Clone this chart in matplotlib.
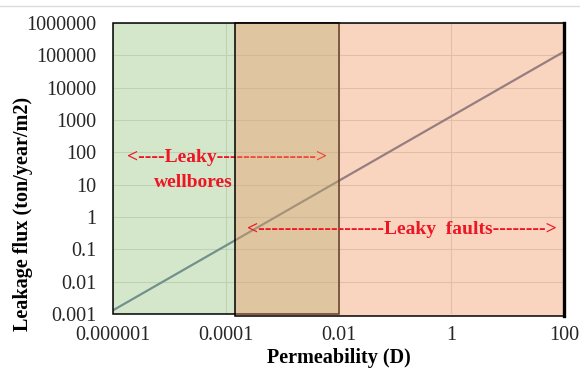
import matplotlib
matplotlib.use("Agg")
import matplotlib.pyplot as plt
import matplotlib.transforms as mtransforms
from matplotlib.patches import Rectangle
from matplotlib.lines import Line2D

# ─── Data ───────────────────────────────────────────────────────────────────
permeability = [1e-6, 1e-5, 1e-4, 1e-3, 1e-2, 1e-1, 1, 10, 100]
leakage_flux = [0.0013, 0.013, 0.13, 1.3, 13, 130, 1300, 13000, 130000]

x_ticks  = [1e-6, 1e-4, 1e-2, 1, 100]
x_labels = ["0.000001", "0.0001", "0.01", "1", "100"]
y_ticks  = [1e-3, 1e-2, 1e-1, 1, 10, 100, 1e3, 1e4, 1e5, 1e6]
y_labels = ["0.001", "0.01", "0.1", "1", "10", "100", "1000", "10000",
            "100000", "1000000"]

wellbore_range = (1e-6, 1e-2)     # permeability range of leaky wellbores
fault_range    = (1.45e-4, 100)   # permeability range of leaky faults

RED = "#ee1525"

plt.rcParams["font.family"] = ["Liberation Serif", "DejaVu Serif"]

fig = plt.figure(figsize=(5.8, 3.69), dpi=100)
ax = fig.add_axes([113 / 580, 1 - 314 / 369, 451 / 580, 291 / 369])

ax.set_xscale("log")
ax.set_yscale("log")
ax.set_xlim(x_ticks[0], x_ticks[-1])
ax.set_ylim(y_ticks[0], y_ticks[-1])
ax.set_xticks(x_ticks)
ax.set_xticklabels(x_labels)
ax.set_yticks(y_ticks)
ax.set_yticklabels(y_labels)
ax.minorticks_off()
ax.tick_params(length=0, labelsize=14.5, labelcolor="#262626")
ax.tick_params(axis="x", pad=9)
ax.tick_params(axis="y", pad=12)
for s in ax.spines.values():
    s.set_visible(False)

ax.set_axisbelow(True)
ax.grid(True, color="#d9d9d9", lw=0.8)

ax.plot(permeability, leakage_flux, color="#5a6e96", lw=1.6, zorder=1)

# zone boxes (semi-transparent, drawn over the curve)
trans = mtransforms.blended_transform_factory(ax.transData, ax.transAxes)
ax.add_patch(Rectangle((wellbore_range[0], 0), wellbore_range[1] - wellbore_range[0], 1,
                       transform=trans, facecolor=(152/255, 197/255, 127/255, 0.4),
                       edgecolor="black", lw=1.1, zorder=2, clip_on=False))

ax.text(0.031, 0.5395, "<----Leaky--------------->", transform=ax.transAxes,
        ha="left", va="center", color=RED, fontsize=14, fontweight="bold", zorder=3)
ax.text(0.177, 0.4536, "wellbores", transform=ax.transAxes,
        ha="center", va="center", color=RED, fontsize=14, fontweight="bold", zorder=3)

ax.add_patch(Rectangle((fault_range[0], -0.007), fault_range[1] - fault_range[0], 1.007,
                       transform=trans, facecolor=(242/255, 150/255, 97/255, 0.4),
                       edgecolor="black", lw=1.1, zorder=4, clip_on=False))
ax.plot([fault_range[1], fault_range[1]], [-0.007, 1.0], transform=trans,
        color="black", lw=2.4, zorder=5, clip_on=False)

ax.text(0.297, 0.2887, "<-------------------Leaky  faults-------->", transform=ax.transAxes,
        ha="left", va="center", color=RED, fontsize=14, fontweight="bold", zorder=6)

fig.text(339 / 580, 1 / 369, "Permeability (D)", ha="center", va="bottom",
         fontsize=14.5, fontweight="bold")
fig.text(23 / 580, 1 - 213.5 / 369, "Leakage flux (ton/year/m2)", rotation=90,
         ha="center", va="center", fontsize=14.5, fontweight="bold")

fig.add_artist(Line2D([0, 1], [1 - 6 / 369] * 2, color="#dcdcdc", lw=1,
                      transform=fig.transFigure))

fig.savefig("out.png", dpi=100)
